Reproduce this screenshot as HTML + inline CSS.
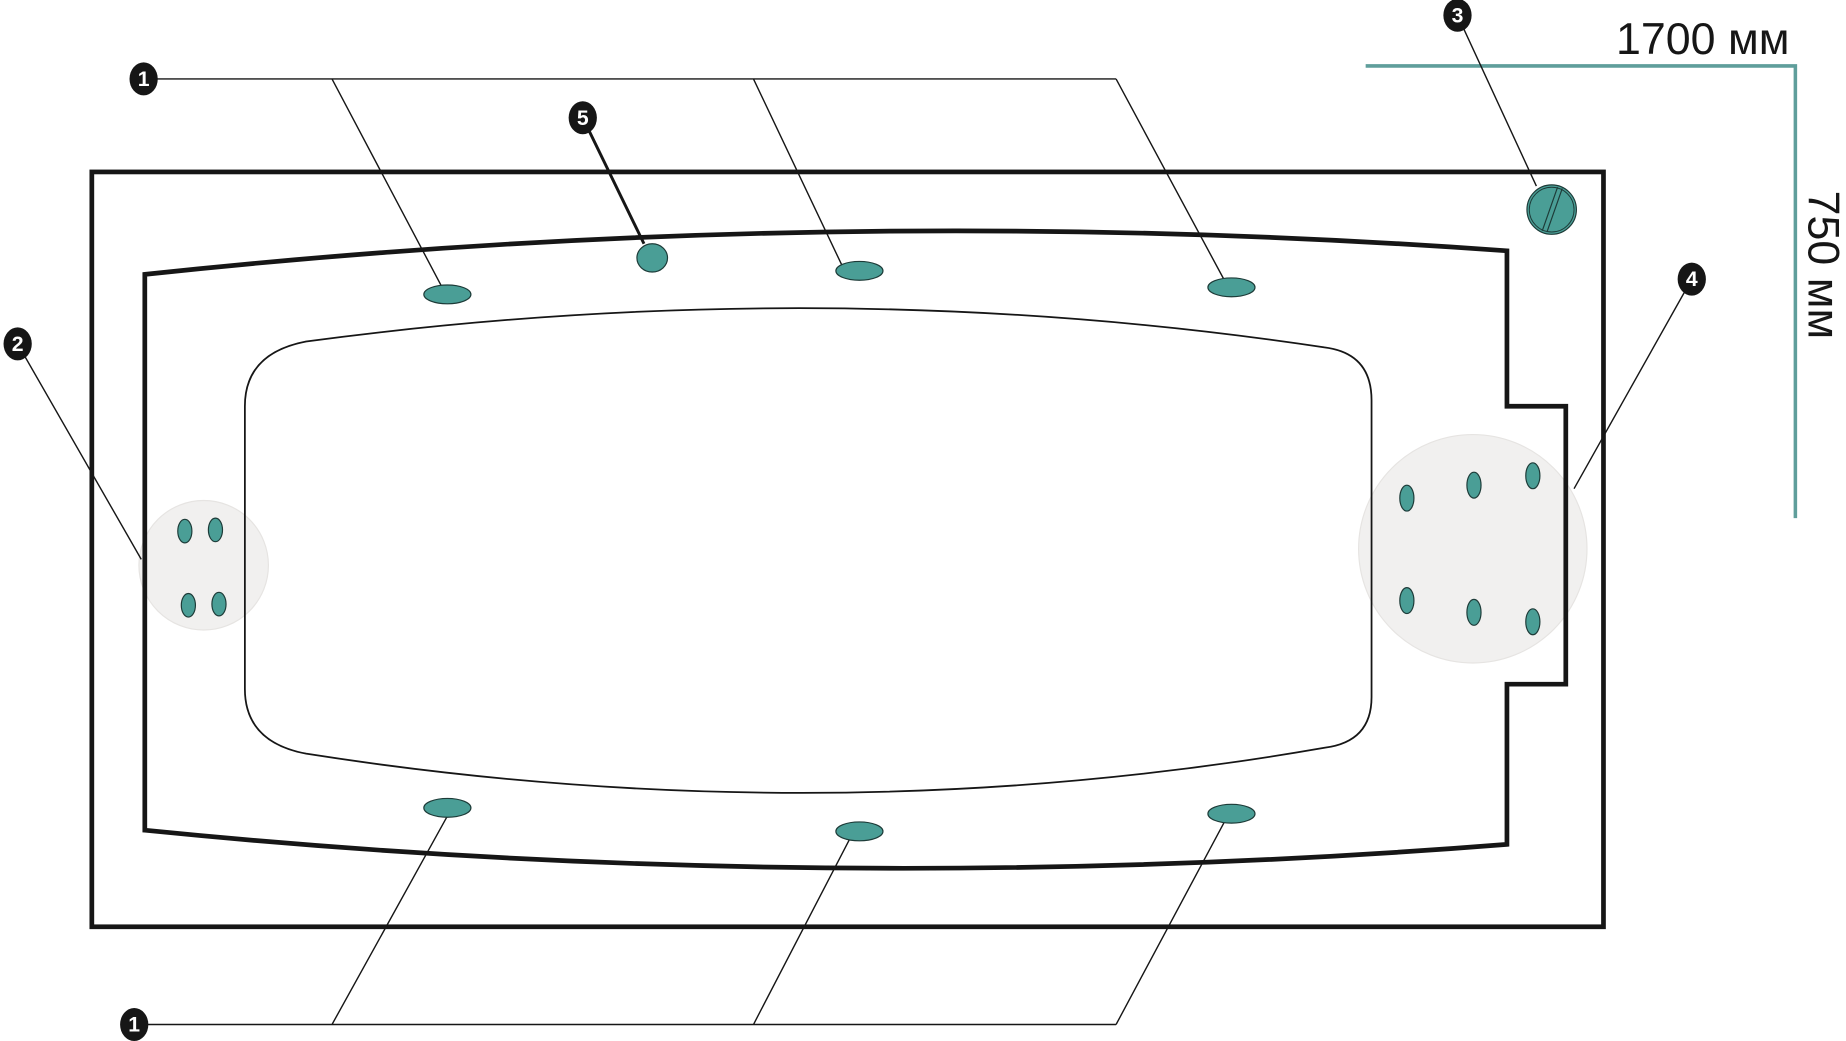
<!DOCTYPE html>
<html><head><meta charset="utf-8"><style>html,body{margin:0;padding:0;background:#fff}svg{display:block}</style></head>
<body>
<svg width="1846" height="1041" viewBox="0 0 1568 884" xmlns="http://www.w3.org/2000/svg" preserveAspectRatio="none">
<rect width="1568" height="884" fill="#fff"/>
<circle cx="173" cy="480" r="55" fill="#f1f0ef" stroke="#e6e4e2"/>
<circle cx="1251" cy="466" r="97" fill="#f1f0ef" stroke="#e6e4e2"/>
<rect x="78" y="146" width="1284" height="641" fill="none" stroke="#161616" stroke-width="4"/>
<path d="M123,233 Q700,171 1280,213 L1280,345 L1330,345 L1330,581 L1280,581 L1280,717 Q700,763 123,705 Z" fill="none" stroke="#161616" stroke-width="4"/>
<path d="M260,290 Q700,231 1125,295 Q1165,300 1165,340 L1165,592 Q1165,630 1125,635 Q700,709 260,640 Q208,630 208,585 L208,345 Q208,300 260,290 Z" fill="none" stroke="#161616" stroke-width="1.5"/>
<path d="M1160,56 L1525,56 L1525,440" fill="none" stroke="#5f9e9b" stroke-width="3"/>
<text x="1520" y="46" text-anchor="end" font-family="Liberation Sans, sans-serif" font-size="38" fill="#161616">1700 мм</text>
<text transform="translate(1536,225) rotate(90)" text-anchor="middle" font-family="Liberation Sans, sans-serif" font-size="38" fill="#161616">750 мм</text>
<g stroke="#161616" stroke-width="1.2" fill="none">
<path d="M122,67 L948,67 M282,67 L375,243 M640,67 L715,225 M948,67 L1040,238"/>
<path d="M114,870 L948,870 M282,870 L380,693 M640,870 L722,712 M948,870 L1040,698"/>
<path d="M15,292 L120,475"/>
<path d="M1238,13 L1305,158"/>
<path d="M1437,237 L1337,415"/>
</g>
<path d="M495,100 L547,207" stroke="#161616" stroke-width="2.5"/>
<g fill="#4a9e96" stroke="#1d3b38" stroke-width="1">
<ellipse cx="380" cy="250" rx="20" ry="8"/>
<ellipse cx="730" cy="230" rx="20" ry="8"/>
<ellipse cx="1046" cy="244" rx="20" ry="8"/>
<ellipse cx="554" cy="219" rx="13" ry="12"/>
<ellipse cx="380" cy="686" rx="20" ry="8"/>
<ellipse cx="730" cy="706" rx="20" ry="8"/>
<ellipse cx="1046" cy="691" rx="20" ry="8"/>
<ellipse cx="157" cy="451" rx="6" ry="10"/>
<ellipse cx="183" cy="450" rx="6" ry="10"/>
<ellipse cx="160" cy="514" rx="6" ry="10"/>
<ellipse cx="186" cy="513" rx="6" ry="10"/>
<ellipse cx="1195" cy="423" rx="6" ry="11"/>
<ellipse cx="1252" cy="412" rx="6" ry="11"/>
<ellipse cx="1302" cy="404" rx="6" ry="11"/>
<ellipse cx="1195" cy="510" rx="6" ry="11"/>
<ellipse cx="1252" cy="520" rx="6" ry="11"/>
<ellipse cx="1302" cy="528" rx="6" ry="11"/>
<circle cx="1318" cy="178" r="21"/>
</g>
<circle cx="1318" cy="178" r="19" fill="none" stroke="#1d3b38" stroke-width="0.8"/>
<path d="M1323,159 L1310,196 M1327,160 L1314,197" stroke="#1d3b38" stroke-width="1"/>
<g font-family="Liberation Sans, sans-serif" font-weight="bold" font-size="18" fill="#fff" text-anchor="middle">
<ellipse cx="122" cy="67" rx="12" ry="14" fill="#161616"/><text x="122" y="73">1</text>
<ellipse cx="114" cy="870" rx="12" ry="14" fill="#161616"/><text x="114" y="876">1</text>
<ellipse cx="495" cy="100" rx="12" ry="14" fill="#161616"/><text x="495" y="106">5</text>
<ellipse cx="15" cy="292" rx="12" ry="14" fill="#161616"/><text x="15" y="298">2</text>
<ellipse cx="1238" cy="13" rx="12" ry="14" fill="#161616"/><text x="1238" y="19">3</text>
<ellipse cx="1437" cy="237" rx="12" ry="14" fill="#161616"/><text x="1437" y="243">4</text>
</g>
</svg>
</body></html>
